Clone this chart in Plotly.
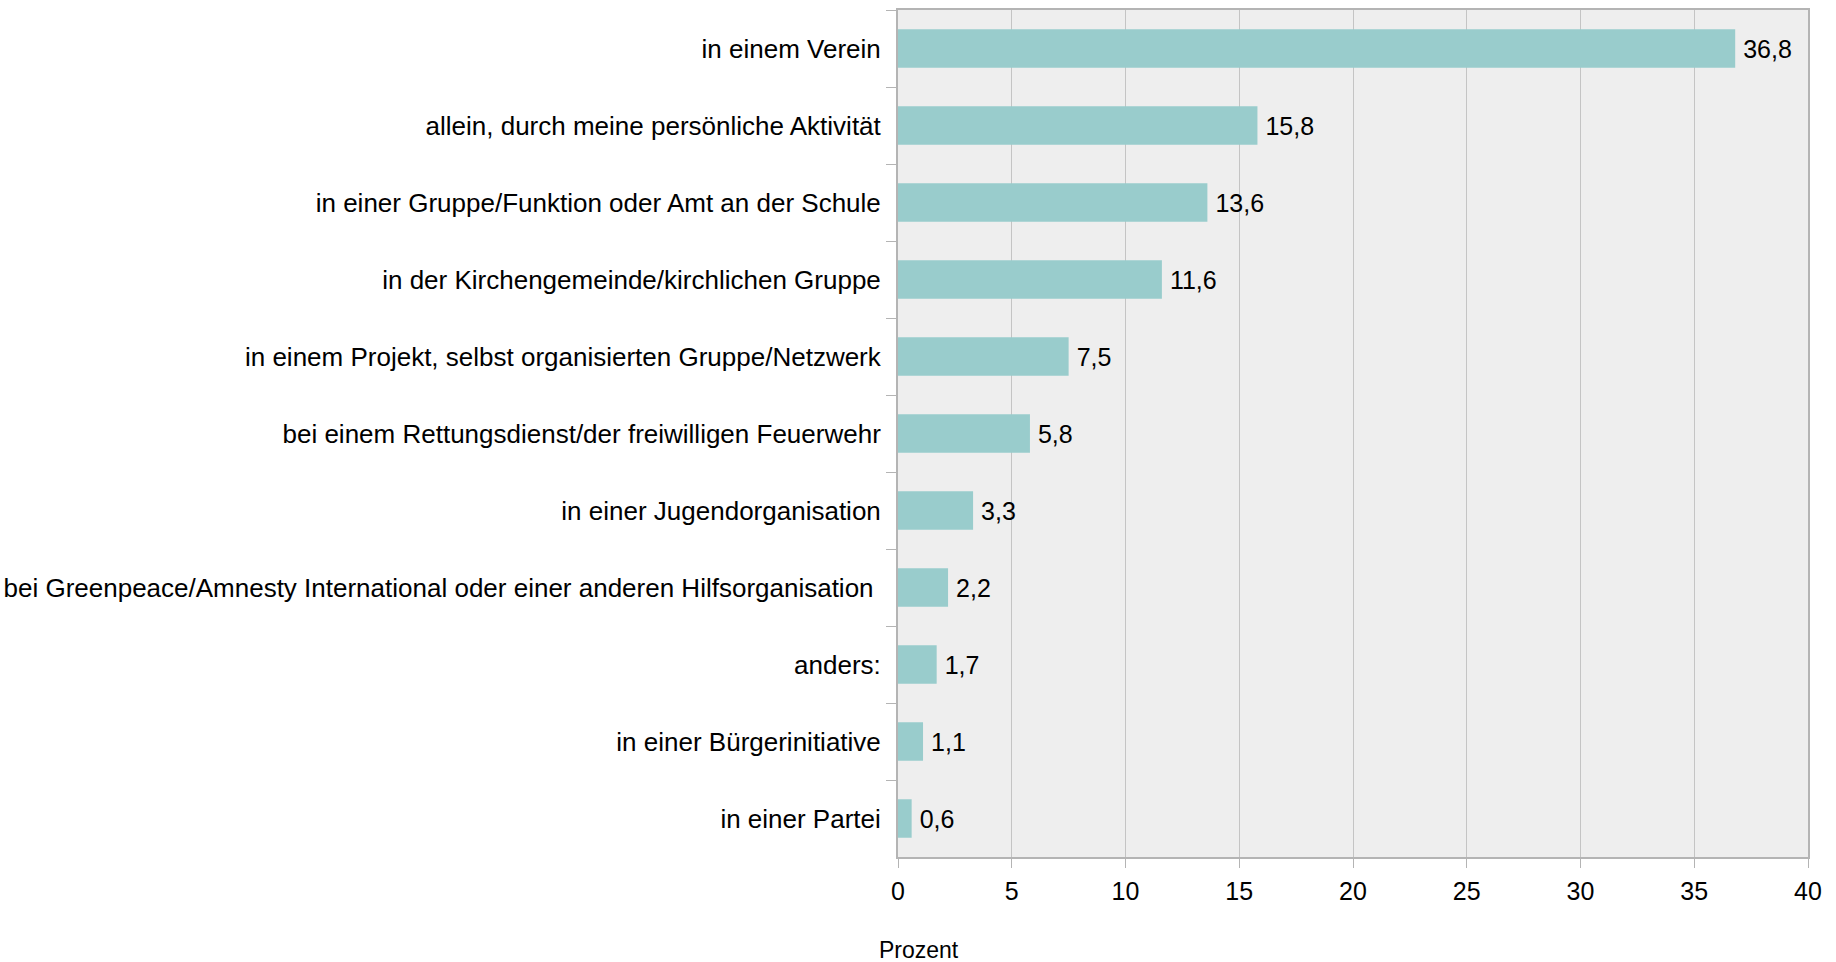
import plotly.graph_objects as go

categories = [
    "in einem Verein",
    "allein, durch meine persönliche Aktivität",
    "in einer Gruppe/Funktion oder Amt an der Schule",
    "in der Kirchengemeinde/kirchlichen Gruppe",
    "in einem Projekt, selbst organisierten Gruppe/Netzwerk",
    "bei einem Rettungsdienst/der freiwilligen Feuerwehr",
    "in einer Jugendorganisation",
    "bei Greenpeace/Amnesty International oder einer anderen Hilfsorganisation ",
    "anders:",
    "in einer Bürgerinitiative",
    "in einer Partei",
]
values = [36.8, 15.8, 13.6, 11.6, 7.5, 5.8, 3.3, 2.2, 1.7, 1.1, 0.6]
x_ticks = [0, 5, 10, 15, 20, 25, 30, 35, 40]
x_title = "Prozent"

FONT = "Liberation Sans, Arial, sans-serif"
FS = 25

W, H = 1836, 962
L, R, T, B = 898, 1808, 10, 857

fig = go.Figure(
    go.Bar(
        y=categories,
        x=values,
        orientation="h",
        marker=dict(color="#99CCCC", line=dict(width=0)),
        width=0.5,
        texttemplate="\u2009%{x:.1f}",
        textposition="outside",
        textfont=dict(family=FONT, size=FS, color="#000000"),
        cliponaxis=False,
        hoverinfo="x+y",
    )
)

fig.update_layout(
    width=W,
    height=H,
    separators=",.",
    paper_bgcolor="#FFFFFF",
    plot_bgcolor="#EEEEEE",
    margin=dict(l=L, r=W - R, t=T, b=H - B, autoexpand=False),
    font=dict(family=FONT, size=FS, color="#000000"),
    showlegend=False,
    annotations=[
        dict(
            text=x_title,
            xref="paper", yref="paper",
            x=(919 - L) / (R - L), y=-(950 - B) / (B - T),
            xanchor="center", yanchor="middle",
            showarrow=False,
            font=dict(family=FONT, size=FS - 2, color="#000000"),
        )
    ],
)

fig.update_xaxes(
    range=[0, 40],
    tickvals=x_ticks,
    showgrid=True,
    gridcolor="#C4C4C4",
    gridwidth=1,
    zeroline=False,
    showline=True,
    linecolor="#B4B4B4",
    linewidth=2,
    mirror=True,
    ticks="outside",
    ticklen=9,
    tickcolor="#B4B4B4",
    ticklabelstandoff=2,
    tickfont=dict(family=FONT, size=FS, color="#000000"),
)

fig.update_yaxes(
    type="category",
    autorange="reversed",
    tickson="boundaries",
    ticks="outside",
    ticklen=10,
    tickcolor="#B4B4B4",
    showgrid=False,
    showline=True,
    linecolor="#B4B4B4",
    linewidth=2,
    mirror=True,
    ticklabelstandoff=10,
    tickfont=dict(family=FONT, size=26, color="#000000"),
)

fig.write_html(
    "out.html",
    config={"displayModeBar": False},
    post_script="document.body.style.margin='0';",
)
